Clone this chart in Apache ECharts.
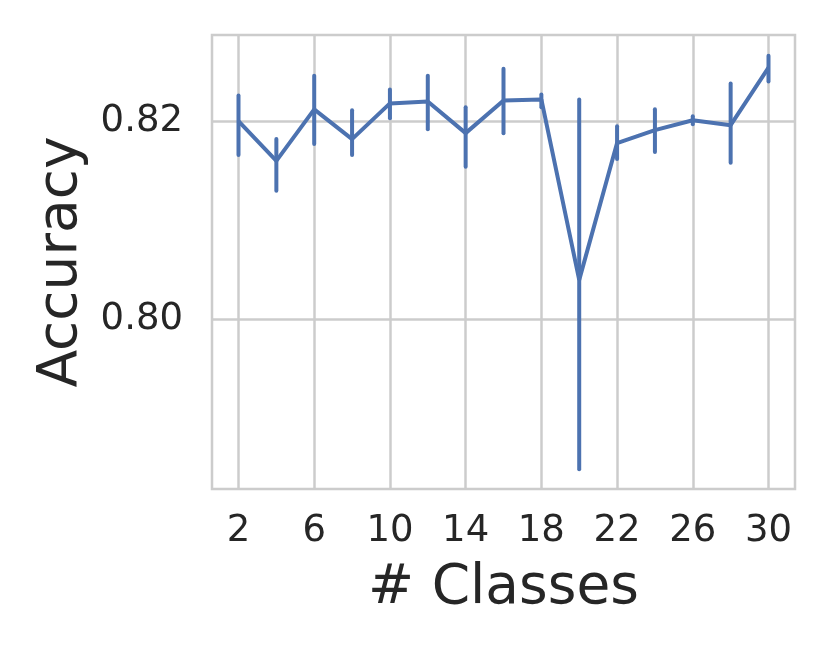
<!DOCTYPE html>
<html>
<head>
<meta charset="utf-8">
<script src="https://cdn.jsdelivr.net/npm/echarts@6/dist/echarts.min.js"></script>
<style>
  html, body { margin: 0; padding: 0; background: #fff; }
  #chart { width: 832px; height: 653px; }
</style>
</head>
<body>
<div id="chart"></div>
<script>
// number of classes vs accuracy, with error bars
const classes = [2, 4, 6, 8, 10, 12, 14, 16, 18, 20, 22, 24, 26, 28, 30];
const accuracy = [0.8200, 0.8160, 0.8212, 0.8182, 0.8218, 0.8220, 0.8188, 0.8221, 0.8222, 0.8040, 0.8178, 0.8191, 0.8201, 0.8196, 0.8254];
const errLow = [0.8166, 0.8130, 0.8177, 0.8166, 0.8203, 0.8192, 0.8154, 0.8188, 0.8214, 0.7849, 0.8162, 0.8169, 0.8197, 0.8158, 0.8240];
const errHigh = [0.8226, 0.8182, 0.8246, 0.8211, 0.8232, 0.8246, 0.8214, 0.8253, 0.8227, 0.8222, 0.8195, 0.8212, 0.8205, 0.8238, 0.8266];
const xTicks = [2, 6, 10, 14, 18, 22, 26, 30];
const yTicks = [0.80, 0.82];

const blue = '#4c72b0';
const gridGray = '#cccccc';
const font = 'DejaVu Sans';

const chart = echarts.init(document.getElementById('chart'));

const errData = classes.map((c, i) => [c, errLow[i], errHigh[i]]);

chart.setOption({
  animation: false,
  grid: {
    left: 212, right: 37, top: 35, bottom: 164,
    show: true, borderColor: gridGray, borderWidth: 2.5
  },
  xAxis: {
    type: 'value',
    min: 0.6, max: 31.4,
    name: '# Classes',
    nameLocation: 'middle',
    nameGap: 72,
    nameTextStyle: { fontFamily: font, fontSize: 55, color: '#262626' },
    axisLine: { show: false },
    axisTick: { show: false, customValues: xTicks },
    axisLabel: { customValues: xTicks, fontFamily: font, fontSize: 37, color: '#262626', margin: 24 },
    splitLine: { show: true, lineStyle: { color: gridGray, width: 2.5 } }
  },
  yAxis: {
    type: 'value',
    min: 0.7829, max: 0.8287,
    name: 'Accuracy',
    nameLocation: 'middle',
    nameGap: 122,
    nameTextStyle: { fontFamily: font, fontSize: 55, color: '#262626' },
    axisLine: { show: false },
    axisTick: { show: false, customValues: yTicks },
    axisLabel: {
      customValues: yTicks, fontFamily: font, fontSize: 37, color: '#262626', margin: 29,
      formatter: v => v.toFixed(2)
    },
    splitLine: { show: true, lineStyle: { color: gridGray, width: 2.5 } }
  },
  series: [
    {
      type: 'custom',
      data: errData,
      renderItem: function (params, api) {
        const lo = api.coord([api.value(0), api.value(1)]);
        const hi = api.coord([api.value(0), api.value(2)]);
        return {
          type: 'line',
          shape: { x1: lo[0], y1: lo[1], x2: hi[0], y2: hi[1] },
          style: { stroke: blue, lineWidth: 4, lineCap: 'round' }
        };
      },
      z: 2
    },
    {
      type: 'line',
      data: classes.map((c, i) => [c, accuracy[i]]),
      symbol: 'none',
      lineStyle: { color: blue, width: 4 },
      z: 3
    }
  ]
});
</script>
</body>
</html>
